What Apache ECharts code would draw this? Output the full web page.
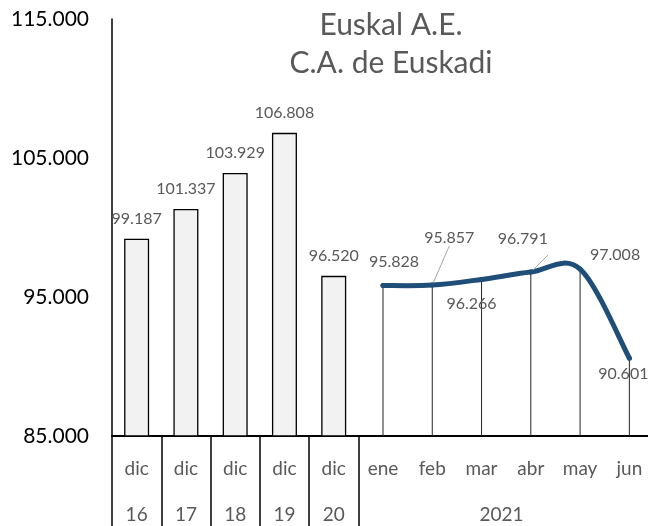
<!DOCTYPE html>
<html>
<head>
<meta charset="utf-8">
<script src="https://cdn.jsdelivr.net/npm/echarts@6/dist/echarts.min.js"></script>
<style>
html,body{margin:0;padding:0;background:#fff;}
#chart{width:648px;height:526px;}
</style>
</head>
<body>
<div id="chart"></div>
<script>
// categorias y datos
var cats = ['dic','dic','dic','dic','dic','ene','feb','mar','abr','may','jun'];
var years = ['16','17','18','19','20','','','2021','','',''];
var barVals = [99187, 101337, 103929, 106808, 96520];
var lineVals = [95828, 95857, 96266, 96791, 97008, 90601];
var yTicks = [85000, 95000, 105000, 115000];

// desplazamiento de etiquetas de la linea (px)
var lineLabelShift = [[11,-24],[17,-47],[-10,24],[-8,-33],[35,-14],[-6,16]];
var withGuide = [false,true,false,true,false,false];

function fmt(n){
	return String(n).replace(/\B(?=(\d{3})+(?!\d))/g, '.');
}

var font = 'Lato';
var gray = '#595959';
var blue = '#1f4e79';
var first = barVals.length;
var empty = [];
for(var i=0;i<first;i++){ empty.push('-'); }
var barData = barVals.concat(lineVals.map(function(){return '-';}));
var dropData = empty.concat(lineVals);
var lineData = empty.concat(lineVals.map(function(v,i){
	return {
		value: v,
		label: {offset: lineLabelShift[i]},
		labelLine: {show: withGuide[i], lineStyle: {color:'#a6a6a6', width:1}}
	};
}));

// curva suavizada tipo Excel (bezier por puntos de la serie)
function renderCurve(params, api){
	var pts = lineVals.map(function(v,i){ return api.coord([first+i, v]); });
	var d = 'M' + pts[0][0] + ' ' + pts[0][1];
	for(var i=0;i<pts.length-1;i++){
		var p0 = pts[i-1] || pts[i], p1 = pts[i], p2 = pts[i+1], p3 = pts[i+2] || pts[i+1];
		var c1x = p1[0] + (p2[0]-p0[0])/6, c1y = p1[1] + (p2[1]-p0[1])/6;
		var c2x = p2[0] - (p3[0]-p1[0])/6, c2y = p2[1] - (p3[1]-p1[1])/6;
		d += ' C' + c1x + ' ' + c1y + ' ' + c2x + ' ' + c2y + ' ' + p2[0] + ' ' + p2[1];
	}
	return {
		type: 'path',
		shape: {pathData: d},
		style: {fill: 'none', stroke: blue, lineWidth: 5, lineCap: 'round', lineJoin: 'round'}
	};
}

var charts = echarts.init(document.getElementById('chart'));
var option = {
	animation: false,
	title: {
		text: 'Euskal A.E.\nC.A. de Euskadi',
		left: 391,
		top: 6,
		padding: 0,
		textAlign: 'center',
		textStyle: {fontFamily: font, fontSize: 30, fontWeight: 'normal', color: gray, lineHeight: 38}
	},
	grid: {left: 112, width: 542, top: 19, height: 417, containLabel: false, outerBoundsMode: 'none'},
	xAxis: [{
		type: 'category',
		data: cats,
		axisLine: {lineStyle: {color: '#000', width: 2}},
		axisTick: {
			show: true,
			length: 92,
			interval: function(idx){ return idx <= 5; },
			lineStyle: {color: '#000', width: 1.5}
		},
		axisLabel: {interval: 0, margin: 23, color: gray, fontFamily: font, fontSize: 19}
	}, {
		type: 'category',
		position: 'bottom',
		offset: 46,
		data: years.map(function(y, i){
			return y === '2021' ? {value: y, textStyle: {padding: [0,0,0,40]}} : y;
		}),
		axisLine: {show: false},
		axisTick: {show: false},
		axisLabel: {interval: 0, margin: 23, color: gray, fontFamily: font, fontSize: 19}
	}],
	yAxis: {
		type: 'value',
		min: yTicks[0],
		max: yTicks[yTicks.length-1],
		interval: 10000,
		axisLine: {show: true, lineStyle: {color: '#000', width: 1.5}},
		axisTick: {show: false},
		splitLine: {show: false},
		axisLabel: {margin: 23, color: '#000', fontFamily: font, fontSize: 21, formatter: fmt}
	},
	series: [{
		name: 'dic',
		type: 'bar',
		xAxisIndex: 0,
		barWidth: 25,
		data: barData,
		itemStyle: {color: '#f2f2f2', borderColor: '#000', borderWidth: 1.3},
		label: {show: true, position: 'top', distance: 12, color: gray, fontFamily: font, fontSize: 16, formatter: function(p){ return fmt(p.value); }}
	}, {
		name: 'drop',
		type: 'bar',
		xAxisIndex: 1,
		barWidth: 1,
		silent: true,
		data: dropData,
		itemStyle: {color: '#262626'}
	}, {
		name: 'curva',
		type: 'custom',
		xAxisIndex: 0,
		z: 4,
		silent: true,
		data: [[first, lineVals[0]]],
		renderItem: renderCurve
	}, {
		name: '2021',
		type: 'line',
		xAxisIndex: 0,
		z: 5,
		symbol: 'circle',
		symbolSize: 5,
		showSymbol: true,
		data: lineData,
		lineStyle: {color: blue, width: 5, opacity: 0},
		itemStyle: {color: blue},
		label: {show: true, position: 'inside', color: gray, fontFamily: font, fontSize: 16, formatter: function(p){ return fmt(p.value); }}
	}]
};
charts.setOption(option);
</script>
</body>
</html>
